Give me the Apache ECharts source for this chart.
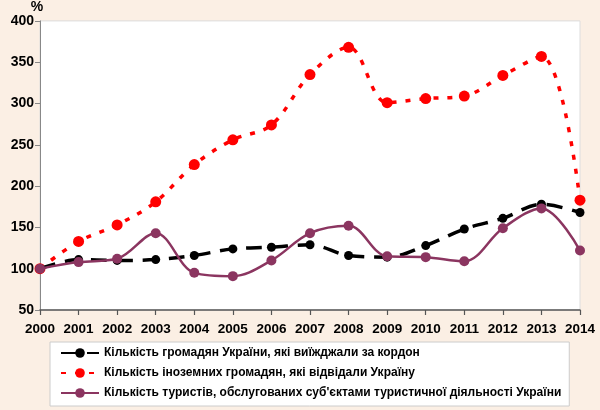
<!DOCTYPE html>
<html>
<head>
<meta charset="utf-8">
<script src="https://cdn.jsdelivr.net/npm/echarts@6/dist/echarts.min.js"></script>
<style>
html,body{margin:0;padding:0;background:#FBEFE4;}
#c{width:600px;height:410px;}
</style>
</head>
<body>
<div id="c"></div>
<script>
var years = ['2000','2001','2002','2003','2004','2005','2006','2007','2008','2009','2010','2011','2012','2013','2014'];
var citizensAbroad = [100, 111, 110, 111, 116, 124, 126, 129, 116, 114, 128, 148, 161, 178, 168];
var foreignVisitors = [100, 133, 153, 181, 226, 256, 274, 335, 368, 301, 306, 309, 334, 357, 183];
var touristsServed = [100, 108, 112, 143, 95, 91, 110, 143, 152, 115, 114, 109, 149, 173, 122];
var yTicks = [50, 100, 150, 200, 250, 300, 350, 400];
var names = [
  'Кількість громадян України, які виїжджали за кордон',
  'Кількість іноземних громадян, які відвідали Україну',
  'Кількість туристів, обслугованих суб\'єктами туристичної діяльності України'
];

var chart = echarts.init(document.getElementById('c'));
var font = 'Liberation Sans, Arial, sans-serif';
chart.setOption({
  backgroundColor: '#FBEFE4',
  animation: false,
  grid: {left: 40, right: 20, top: 19, bottom: 100, show: true, backgroundColor: '#ffffff', borderColor: '#dddddd', borderWidth: 1},
  xAxis: {
    type: 'category', data: years, boundaryGap: false,
    axisLine: {lineStyle: {color: '#555', width: 1.5}},
    axisTick: {show: true, interval: 0, length: 5, lineStyle: {color: '#555', width: 1.2}},
    axisLabel: {interval: 0, color: '#000', fontWeight: 'bold', fontSize: 13.5, fontFamily: font, margin: 12},
    splitLine: {show: false}
  },
  yAxis: {
    type: 'value', min: yTicks[0], max: yTicks[yTicks.length-1], interval: 50,
    name: '%', nameGap: 2, nameTextStyle: {color: '#000', fontWeight: 'bold', fontSize: 14, fontFamily: font, align: 'center', padding: [0, 6, 0, 0]},
    axisLine: {show: true, lineStyle: {color: '#888', width: 1}},
    axisTick: {show: true, length: 5, lineStyle: {color: '#888'}},
    axisLabel: {color: '#000', fontWeight: 'bold', fontSize: 14, fontFamily: font, margin: 6},
    splitLine: {show: false}
  },
  legend: {
    orient: 'vertical', left: 50, top: 342,
    backgroundColor: '#ffffff', borderColor: '#cccccc', borderWidth: 1,
    padding: [5, 8, 7, 10], itemGap: 8, itemWidth: 38, itemHeight: 12,
    textStyle: {color: '#000', fontWeight: 'bold', fontSize: 12, fontFamily: font},
    data: names
  },
  series: [
    {
      name: names[1], type: 'line', smooth: 0.35, data: foreignVisitors,
      symbol: 'circle', symbolSize: 11, z: 2,
      itemStyle: {color: '#FF0000'},
      lineStyle: {color: '#FF0000', width: 3.5, type: [5, 9]}
    },
    {
      name: names[0], type: 'line', smooth: 0.35, data: citizensAbroad,
      symbol: 'circle', symbolSize: 9, z: 3,
      itemStyle: {color: '#000000'},
      lineStyle: {color: '#000000', width: 3.5, type: [16, 10]}
    },
    {
      name: names[2], type: 'line', smooth: 0.35, data: touristsServed,
      symbol: 'circle', symbolSize: 10, z: 4,
      itemStyle: {color: '#8B3560'},
      lineStyle: {color: '#8B3560', width: 2.5}
    }
  ]
});
</script>
</body>
</html>
